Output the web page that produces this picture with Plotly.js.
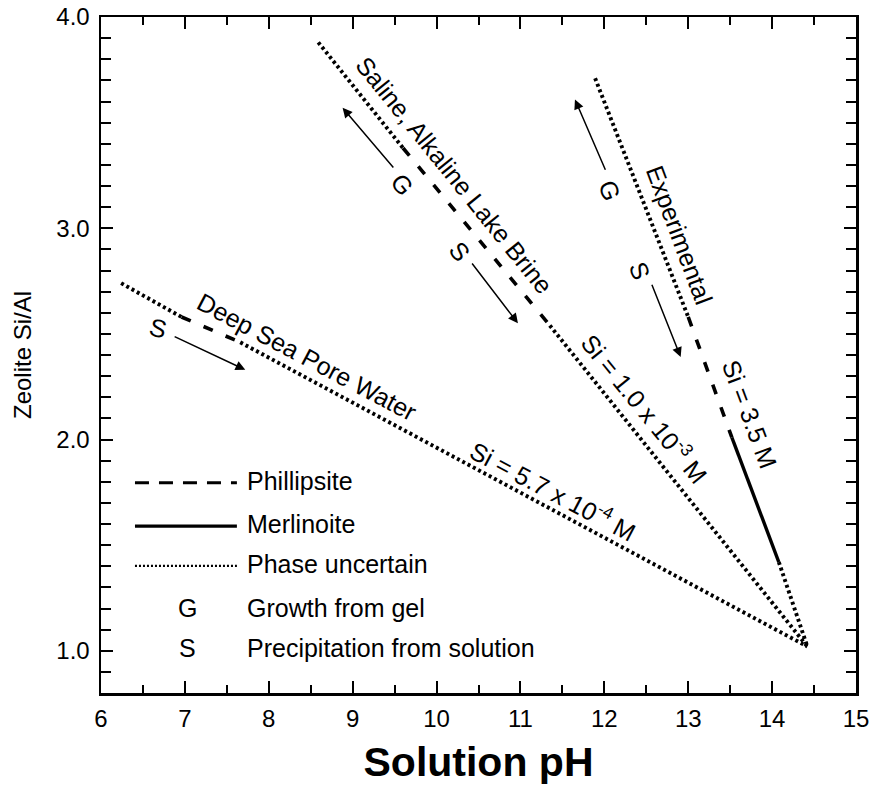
<!DOCTYPE html>
<html><head><meta charset="utf-8">
<script src="https://cdn.plot.ly/plotly-3.0.1.min.js"></script>
<style>html,body{margin:0;padding:0;background:#fff;} #chart{width:877px;height:791px;}</style>
</head><body><div id="chart"></div>
<script>
// Breakpoints along each trend line (solution pH, zeolite Si/Al) and the phase of each segment between them
const deepSeaPH    = [6.24, 6.96, 7.66, 14.42];
const deepSeaSiAl  = [2.74, 2.58, 2.46, 1.02];
const deepSeaPhase = ['uncertain', 'phillipsite', 'uncertain'];

const lakePH    = [8.59, 9.60, 11.35, 14.42];
const lakeSiAl  = [3.88, 3.38, 2.54, 1.02];
const lakePhase = ['uncertain', 'phillipsite', 'uncertain'];

const expPH    = [11.89, 13.00, 13.52, 14.08, 14.42];
const expSiAl  = [3.71, 2.58, 2.01, 1.42, 1.02];
const expPhase = ['uncertain', 'phillipsite', 'merlinoite', 'uncertain'];

// Axis ticks
const xTicks = [6, 7, 8, 9, 10, 11, 12, 13, 14, 15];
const yTicks = [1, 2, 3, 4];
const yTickLabels = ['1.0', '2.0', '3.0', '4.0'];

// Line labels
const lineLabels    = ['Deep Sea Pore Water', 'Si = 5.7 x 10<sup>-4</sup> M', 'Saline, Alkaline Lake Brine',
                       'Si = 1.0 x 10<sup>-3</sup> M', 'Experimental', 'Si = 3.5 M'];
const lineLabelPH   = [8.46, 11.39, 10.21, 12.49, 12.90, 13.73];
const lineLabelSiAl = [2.39, 1.76, 3.25, 2.15, 2.97, 2.12];

// Direction arrows: G = growth from gel, S = precipitation from solution
const arrowLetter     = ['S', 'G', 'S', 'G', 'S'];
const arrowLetterPH   = [6.69, 9.59, 10.27, 12.06, 12.43];
const arrowLetterSiAl = [2.53, 3.21, 2.89, 3.18, 2.80];
const arrowTailPH     = [6.86, 9.50, 10.41, 12.02, 12.56];
const arrowTailSiAl   = [2.49, 3.28, 2.84, 3.27, 2.74];
const arrowHeadPH     = [7.72, 8.88, 10.97, 11.65, 12.91];
const arrowHeadSiAl   = [2.33, 3.57, 2.55, 3.61, 2.39];

// Legend
const legendPhases = ['phillipsite', 'merlinoite', 'uncertain'];
const legendNames  = ['Phillipsite', 'Merlinoite', 'Phase uncertain'];
const legendLetters = ['G', 'S'];
const legendLetterNames = ['Growth from gel', 'Precipitation from solution'];

// ---- styling ----
const FONT = 'Liberation Sans, Arial, Helvetica, sans-serif';
const TXT = 25;
const phaseStyle = {
  phillipsite: {color: '#000', width: 3.6, dash: '10px,14px'},
  merlinoite:  {color: '#000', width: 3.4, dash: 'solid'},
  uncertain:   {color: '#000', width: 3.9, dash: '3px,3px'}
};
const legendStyle = {
  phillipsite: {color: '#000', width: 3.2, dash: '14px,10px'},
  merlinoite:  {color: '#000', width: 3.2, dash: 'solid'},
  uncertain:   {color: '#000', width: 2.4, dash: '2px,2px'}
};

const traces = [];
function addSeries(px, py, phases) {
  for (let i = 0; i < phases.length; i++) {
    traces.push({
      type: 'scatter', mode: 'lines',
      x: [px[i], px[i + 1]], y: [py[i], py[i + 1]],
      line: phaseStyle[phases[i]], showlegend: false, hoverinfo: 'skip'
    });
  }
}
addSeries(deepSeaPH, deepSeaSiAl, deepSeaPhase);
addSeries(lakePH, lakeSiAl, lakePhase);
addSeries(expPH, expSiAl, expPhase);

// label rotation follows the drawn line direction on screen
const annotations = [];
const labelSeries = [0, 0, 1, 1, 2, 2];
const seriesPts = [[deepSeaPH, deepSeaSiAl], [lakePH, lakeSiAl], [expPH, expSiAl]];
const W = 755, H = 676;
function screenAngle(s) {
  const [px, py] = seriesPts[s];
  const n = px.length - 1;
  const dx = (px[n] - px[0]) / 9 * W;
  const dy = (py[0] - py[n]) / 3.2 * H;
  return Math.atan2(dy, dx) * 180 / Math.PI;
}
lineLabels.forEach((t, i) => {
  annotations.push({
    x: lineLabelPH[i], y: lineLabelSiAl[i], xref: 'x', yref: 'y',
    text: t, showarrow: false, textangle: screenAngle(labelSeries[i]),
    font: {family: FONT, size: TXT, color: '#000'}
  });
});
const letterSeries = [0, 1, 1, 2, 2];
arrowLetter.forEach((t, i) => {
  annotations.push({
    x: arrowLetterPH[i], y: arrowLetterSiAl[i], xref: 'x', yref: 'y',
    text: t, showarrow: false, textangle: i === 0 ? 15 : screenAngle(letterSeries[i]),
    font: {family: FONT, size: TXT, color: '#000'}
  });
  annotations.push({
    x: arrowHeadPH[i], y: arrowHeadSiAl[i], xref: 'x', yref: 'y',
    ax: arrowTailPH[i], ay: arrowTailSiAl[i], axref: 'x', ayref: 'y',
    text: '', showarrow: true, arrowhead: 2, arrowsize: 1.3, arrowwidth: 1.5,
    arrowcolor: '#000', standoff: 0, startstandoff: 0
  });
});

// legend (drawn in paper coordinates)
const shapes = [];
const legendRowY = [0.311, 0.247, 0.188];
legendPhases.forEach((p, i) => {
  shapes.push({type: 'line', xref: 'paper', yref: 'paper',
    x0: 0.045, x1: 0.180, y0: legendRowY[i], y1: legendRowY[i], line: legendStyle[p]});
  annotations.push({xref: 'paper', yref: 'paper', x: 0.191, y: legendRowY[i] + 0.003,
    xanchor: 'left', yanchor: 'middle', text: legendNames[i], showarrow: false,
    font: {family: FONT, size: TXT, color: '#000'}});
});
const letterRowY = [0.126, 0.067];
legendLetters.forEach((l, i) => {
  annotations.push({xref: 'paper', yref: 'paper', x: 0.115, y: letterRowY[i],
    xanchor: 'center', yanchor: 'middle', text: l, showarrow: false,
    font: {family: FONT, size: TXT, color: '#000'}});
  annotations.push({xref: 'paper', yref: 'paper', x: 0.191, y: letterRowY[i],
    xanchor: 'left', yanchor: 'middle', text: legendLetterNames[i], showarrow: false,
    font: {family: FONT, size: TXT, color: '#000'}});
});

const layout = {
  width: 877, height: 791,
  margin: {l: 101, r: 21, t: 17, b: 98},
  paper_bgcolor: '#fff', plot_bgcolor: '#fff',
  font: {family: FONT, color: '#000'},
  showlegend: false,
  xaxis: {
    range: [6, 15], tickvals: xTicks, ticks: 'inside', ticklen: 12, tickwidth: 2, tickcolor: '#000',
    minor: {dtick: 0.5, tick0: 6, ticks: 'inside', ticklen: 8, tickwidth: 2, tickcolor: '#000'},
    showline: true, linewidth: 2.5, linecolor: '#000', mirror: 'ticks',
    showgrid: false, zeroline: false, tickfont: {size: 24, family: FONT},
    ticklabelstandoff: 3,
    title: {text: 'Solution pH', font: {size: 41, family: FONT, weight: 'bold'}, standoff: 16}
  },
  yaxis: {
    range: [0.8, 4.0], tickvals: yTicks, ticktext: yTickLabels, ticks: 'inside', ticklen: 12, tickwidth: 2, tickcolor: '#000',
    minor: {dtick: 0.1, tick0: 0, ticks: 'inside', ticklen: 10, tickwidth: 2, tickcolor: '#000'},
    showline: true, linewidth: 2.5, linecolor: '#000', mirror: 'ticks',
    showgrid: false, zeroline: false, tickfont: {size: 24, family: FONT},
    ticklabelstandoff: 4,
    title: {text: 'Zeolite Si/Al', font: {size: 24, family: FONT}, standoff: 18}
  },
  annotations: annotations,
  shapes: shapes
};

Plotly.newPlot('chart', traces, layout, {displayModeBar: false, staticPlot: true});
</script>
</body></html>
